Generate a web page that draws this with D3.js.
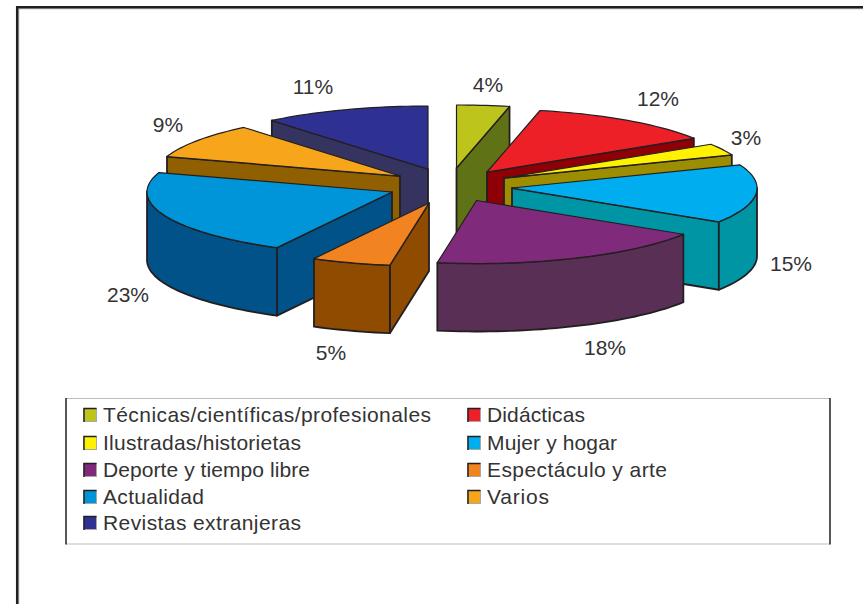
<!DOCTYPE html>
<html>
<head>
<meta charset="utf-8">
<script src="https://cdn.jsdelivr.net/npm/d3@7"></script>
<style>
  html, body { margin: 0; padding: 0; background: #fff; }
  svg { display: block; }
</style>
</head>
<body>
<div id="chart"></div>
<script>
var width = 863;
var height = 604;

var categories = ["Técnicas/científicas/profesionales", "Didácticas", "Ilustradas/historietas", "Mujer y hogar",
  "Deporte y tiempo libre", "Espectáculo y arte", "Actualidad", "Varios", "Revistas extranjeras"];
var values = [4, 12, 3, 15, 18, 5, 23, 9, 11];

var topColors = ["#bdc41c", "#ee2027", "#fff200", "#00aeef", "#7f2a7a", "#f18321", "#0094d9", "#f7a51b", "#2e3192"];
var sideColors = ["#5f7216", "#8e0006", "#9c8e00", "#0095a5", "#5a2f55", "#8f4c00", "#005288", "#8f5f00", "#353360"];

// exploded slices, each one has its own tip
var tips = [[456.5, 168], [487, 172], [504, 178], [512, 188], [476.5, 200.5], [429, 203], [392, 192], [400, 176], [428, 169]];
var labelPos = [[488, 92], [658, 106], [746, 145], [791, 271], [605, 355], [331, 360], [128, 302], [168, 132], [313, 94]];
// legend text is spaced wider than the font, so hold each label to its measured length
var legendLengths = [328, 98, 198, 130, 207, 180, 101, 62, 198];

var rx = 245, ry = 63, depth = 68;
var ink = "#231f20";

// the 3d view in the original does not draw true angles near the vertical
var warp = d3.scaleLinear()
  .domain([0, 14.4, 57.6, 122.4, 187.2, 205.2, 288, 360].map(function(a) { return a * Math.PI / 180; }))
  .range([0, 12.5, 57.6, 122.4, 189.2, 208, 288, 360].map(function(a) { return a * Math.PI / 180; }));

var svg = d3.select("#chart").append("svg")
  .attr("width", width)
  .attr("height", height)
  .attr("font-family", "'Liberation Sans', Arial, sans-serif");

// outer frame with its soft grey edge
svg.append("path")
  .attr("d", "M18.8," + height + "V8.8H" + width)
  .attr("fill", "none")
  .attr("stroke", "#b5b5b5")
  .attr("stroke-width", 1);
svg.append("path")
  .attr("d", "M17.2," + height + "V7.3H" + width)
  .attr("fill", "none")
  .attr("stroke", ink)
  .attr("stroke-width", 2.5);

var pie = d3.pie().sort(null).value(function(d) { return d; });
var arcs = pie(values).map(function(d, i) {
  d.tip = tips[i];
  d.name = categories[i];
  d.i = i;
  return d;
});

function project(d, a, drop) {
  var t = warp(a);
  return [d.tip[0] + rx * Math.sin(t), d.tip[1] - ry * Math.cos(t) + (drop || 0)];
}

function arcPoints(d, a0, a1, drop) {
  var n = Math.max(2, Math.ceil((a1 - a0) / 0.03));
  return d3.range(n + 1).map(function(k) {
    return project(d, a0 + (a1 - a0) * k / n, drop);
  });
}

var line = d3.line();

function radialWall(d, a) {
  return line([d.tip, project(d, a), project(d, a, depth), [d.tip[0], d.tip[1] + depth]]) + "Z";
}

function outerWall(d) {
  var a0 = Math.max(d.startAngle, Math.PI / 2);
  var a1 = Math.min(d.endAngle, 3 * Math.PI / 2);
  if (a1 <= a0) return null;
  var pts = arcPoints(d, a0, a1, 0).concat(arcPoints(d, a0, a1, depth).reverse());
  return line(pts) + "Z";
}

// back slices first
var slices = svg.append("g").selectAll("g")
  .data(arcs.slice().sort(function(a, b) { return a.tip[1] - b.tip[1]; }))
  .enter().append("g")
    .attr("stroke", ink)
    .attr("stroke-linejoin", "round");

slices.append("path")
  .filter(function(d) { return Math.sin(d.startAngle) < -0.001; })
  .attr("d", function(d) { return radialWall(d, d.startAngle); })
  .attr("fill", function(d) { return sideColors[d.i]; })
  .attr("stroke-width", 1.8);

slices.append("path")
  .filter(function(d) { return Math.sin(d.endAngle) > 0.001; })
  .attr("d", function(d) { return radialWall(d, d.endAngle); })
  .attr("fill", function(d) { return sideColors[d.i]; })
  .attr("stroke-width", 1.8);

slices.append("path")
  .filter(function(d) { return outerWall(d) !== null; })
  .attr("d", outerWall)
  .attr("fill", function(d) { return sideColors[d.i]; })
  .attr("stroke-width", 1.8);

slices.append("path")
  .attr("d", function(d) {
    return line([d.tip].concat(arcPoints(d, d.startAngle, d.endAngle, 0))) + "Z";
  })
  .attr("fill", function(d) { return topColors[d.i]; })
  .attr("stroke-width", 1.2);

// percent labels
svg.append("g").selectAll("text")
  .data(arcs)
  .enter().append("text")
    .attr("x", function(d) { return labelPos[d.i][0]; })
    .attr("y", function(d) { return labelPos[d.i][1]; })
    .attr("text-anchor", "middle")
    .attr("font-size", 21)
    .attr("fill", "#333")
    .text(function(d) { return d.data + "%"; });

// legend box, light top and bottom, dark sides
var legend = svg.append("g");
[398.5, 544].forEach(function(y) {
  legend.append("line").attr("x1", 66).attr("x2", 830).attr("y1", y).attr("y2", y)
    .attr("stroke", "#bdbdbd").attr("stroke-width", 1);
});
[66, 830].forEach(function(x) {
  legend.append("line").attr("x1", x).attr("x2", x).attr("y1", 398).attr("y2", 544.5)
    .attr("stroke", ink).attr("stroke-width", 1.5);
});

var colX = d3.scaleOrdinal().domain([0, 1]).range([83, 467]);
var rowY = d3.scaleOrdinal().domain([0, 1, 2, 3, 4]).range([415, 443, 470, 497, 523]);

var entry = legend.selectAll(".entry")
  .data(arcs)
  .enter().append("g")
    .attr("class", "entry")
    .attr("transform", function(d) {
      return "translate(" + colX(d.i % 2) + "," + rowY(Math.floor(d.i / 2)) + ")";
    });

entry.append("rect")
  .attr("x", 0.5).attr("y", -6.5).attr("width", 13).attr("height", 13)
  .attr("fill", function(d) { return topColors[d.i]; })
  .attr("stroke", "#a8a8a8").attr("stroke-width", 1);

// dark left and top of each swatch
entry.append("path")
  .attr("d", "M1,7V-6.5H13.5")
  .attr("fill", "none")
  .attr("stroke", ink)
  .attr("stroke-width", 1.4);

entry.append("text")
  .attr("x", 20)
  .attr("y", 7)
  .attr("font-size", 21)
  .attr("textLength", function(d) { return legendLengths[d.i]; })
  .attr("fill", "#333")
  .text(function(d) { return d.name; });
</script>
</body>
</html>
